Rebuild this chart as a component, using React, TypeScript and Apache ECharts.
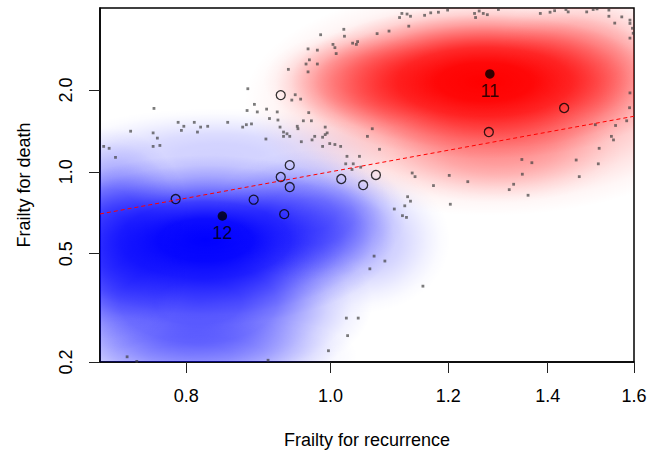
import React, { useEffect, useRef } from "react";
import * as echarts from "echarts";

// ---------- data (original units) ----------
const xTicks = [0.8, 1.0, 1.2, 1.4, 1.6];
const yTicks = [0.2, 0.5, 1.0, 2.0];
const xRange = [0.7, 1.6];
const yRange = [0.2, 4.0];

// reference line y = x
const refLineX = [0.7, 1.6];
const refLineY = [0.7, 1.6];

// open circles
const openX = [0.787, 0.888, 0.926, 0.939, 0.939, 0.931, 0.926, 1.017, 1.052, 1.073, 1.278, 1.436];
const openY = [0.794, 0.79, 0.957, 1.058, 0.879, 0.699, 1.914, 0.941, 0.894, 0.974, 1.4, 1.716];

// highlighted (filled) points
const highlightX = [1.28, 0.846];
const highlightY = [2.29, 0.688];
const highlightLabels = ["11", "12"];

// outlying sample points (grey dots)
const outlierX = [
  0.985, 0.966, 0.98, 0.968, 0.963, 0.98, 0.937, 0.966, 0.88, 0.947, 0.942, 0.955, 0.761, 0.889, 0.879, 0.893,
  0.906, 0.921, 0.922, 0.91, 0.967, 0.79, 0.797, 0.81, 0.818, 0.827, 0.794, 0.814, 0.853, 0.873, 0.885, 0.878,
  0.925, 0.95, 0.951, 0.959, 0.971, 0.992, 0.734, 0.76, 0.93, 0.93, 0.935, 0.939, 0.976, 0.972, 0.992, 0.765,
  0.905, 0.956, 0.704, 0.71, 0.76, 0.768, 0.988, 0.717,
  1.117, 1.126, 1.132, 1.113, 1.157, 1.168, 1.182, 1.199, 1.25, 1.252, 1.259, 1.267, 1.275, 1.297, 1.384, 1.405,
  1.415, 1.44, 1.445, 1.487, 1.502, 1.511, 1.539, 1.539, 1.553, 1.57, 1.59, 1.59, 1.596, 1.598, 1.59, 1.129,
  1.095, 1.075, 1.021, 1.022, 1.004, 1.007, 1.035, 1.041, 1.043, 1.009,
  0.995, 0.988, 0.999, 1.007, 1.016, 1.067, 1.059, 1.079, 1.026, 1.046, 1.024, 1.036, 1.048, 1.034, 1.135, 1.14,
  1.173, 1.202, 1.237, 1.345, 1.366, 1.346, 1.328, 1.319, 1.358, 1.507, 1.555, 1.582, 1.545, 1.55, 1.516, 1.463,
  1.514, 1.47, 1.127, 1.132, 1.122, 1.104, 1.118, 1.125, 1.204, 1.589, 1.59,
  1.07, 1.088, 1.063, 1.154, 1.025, 1.044, 1.027, 0.997, 0.73, 0.741, 0.908,
];
const outlierY = [
  3.19, 2.83, 2.8, 2.58, 2.49, 2.49, 2.38, 2.33, 2.02, 1.92, 1.835, 1.85, 1.71, 1.77, 1.68, 1.66,
  1.7, 1.66, 1.55, 1.57, 1.65, 1.52, 1.47, 1.52, 1.46, 1.47, 1.42, 1.4, 1.52, 1.46, 1.5, 1.49,
  1.46, 1.47, 1.44, 1.54, 1.54, 1.46, 1.41, 1.39, 1.4, 1.35, 1.38, 1.35, 1.35, 1.31, 1.37, 1.33,
  1.32, 1.29, 1.24, 1.22, 1.24, 1.25, 1.24, 1.13,
  3.82, 3.8, 3.73, 3.69, 3.76, 3.84, 3.86, 3.93, 3.82, 3.69, 3.9, 3.82, 3.78, 3.95, 3.82, 3.86,
  3.91, 3.95, 3.87, 3.87, 3.95, 3.97, 3.93, 3.73, 3.52, 3.71, 3.61, 3.51, 3.37, 3.23, 3.1, 3.43,
  3.29, 3.22, 3.34, 3.15, 2.94, 2.86, 2.97, 2.94, 3.01, 2.72,
  1.39, 1.34, 1.27, 1.26, 1.24, 1.44, 1.35, 1.21, 1.14, 1.14, 1.07, 1.07, 1.04, 1.02, 0.99, 0.96,
  0.89, 0.97, 0.92, 1.11, 1.08, 0.98, 0.9, 0.86, 0.82, 1.49, 1.48, 1.54, 1.35, 1.31, 1.22, 1.105,
  1.07, 0.96, 0.81, 0.78, 0.75, 0.73, 0.69, 0.68, 0.76, 1.72, 1.95,
  0.49, 0.47, 0.44, 0.38, 0.29, 0.29, 0.25, 0.22, 0.209, 0.201, 0.203,
];

// density clouds: centre (original units), spread (log units), weight
const blueCloudX = [0.824, 0.815, 0.711, 0.969, 0.84, 0.805, 1.047];
const blueCloudY = [0.561, 0.33, 0.561, 0.694, 1.15, 0.212, 0.561];
const blueSpreadX = [0.294, 0.27, 0.13, 0.15, 0.27, 0.26, 0.14];
const blueSpreadY = [0.72, 0.75, 0.95, 0.55, 0.4, 0.36, 0.62];
const blueWeight = [1.0, 0.65, 0.6, 0.45, 0.18, 0.28, 0.22];

const redCloudX = [1.27, 1.28, 1.047, 1.495, 1.3];
const redCloudY = [2.138, 1.835, 2.17, 2.8, 1.2];
const redSpreadX = [0.3, 0.38, 0.15, 0.14, 0.19];
const redSpreadY = [0.65, 0.98, 0.42, 0.55, 0.45];
const redWeight = [1.0, 0.42, 0.3, 0.2, 0.2];

const FONT = "'Liberation Sans', Arial, Helvetica, sans-serif";
const L = Math.log;

function cloudData(xs: number[], ys: number[], sx: number[], sy: number[], w: number[]) {
  return xs.map((x, i) => [L(x), L(ys[i]), sx[i], sy[i], w[i]]);
}

function makeCloudRenderer(rgb: string) {
  return (_params: any, api: any) => {
    const c = api.coord([api.value(0), api.value(1)]);
    const s = api.size([api.value(2), api.value(3)]);
    const a = api.value(4) as number;
    const col = (k: number) => `rgba(${rgb},${Math.min(1, a * k).toFixed(3)})`;
    return {
      type: "circle",
      x: c[0],
      y: c[1],
      scaleX: s[0] / 100,
      scaleY: s[1] / 100,
      shape: { cx: 0, cy: 0, r: 100 },
      style: {
        fill: new echarts.graphic.RadialGradient(0.5, 0.5, 0.5, [
          { offset: 0, color: col(1) },
          { offset: 0.25, color: col(0.95) },
          { offset: 0.45, color: col(0.76) },
          { offset: 0.6, color: col(0.5) },
          { offset: 0.75, color: col(0.25) },
          { offset: 0.88, color: col(0.08) },
          { offset: 1, color: col(0) },
        ]),
      },
    };
  };
}

export default function App() {
  const ref = useRef<HTMLDivElement>(null);

  useEffect(() => {
    if (!ref.current) return;
    const chart = echarts.init(ref.current, undefined, { renderer: "svg" });

    const fmt = (v: number) => Math.exp(v).toFixed(1);

    const option: any = {
      animation: false,
      backgroundColor: "#ffffff",
      grid: {
        left: 100,
        right: 15,
        top: 8,
        bottom: 91,
        show: true,
        borderColor: "#000",
        borderWidth: 1.5,
        backgroundColor: "transparent",
        containLabel: false,
        outerBoundsMode: "none",
      },
      xAxis: {
        type: "value",
        min: L(xRange[0]),
        max: L(xRange[1]),
        axisLine: { show: true, onZero: false, lineStyle: { color: "#000", width: 1.5 } },
        axisTick: {
          show: true,
          length: 11,
          customValues: xTicks.map(L),
          lineStyle: { color: "#222", width: 1 },
        },
        axisLabel: {
          customValues: xTicks.map(L),
          formatter: fmt,
          fontSize: 18,
          fontFamily: FONT,
          color: "#000",
          margin: 25,
        },
        splitLine: { show: false },
      },
      yAxis: {
        type: "value",
        min: L(yRange[0]),
        max: L(yRange[1]),
        axisLine: { show: true, onZero: false, lineStyle: { color: "#000", width: 1.5 } },
        axisTick: {
          show: true,
          length: 11,
          customValues: yTicks.map(L),
          lineStyle: { color: "#222", width: 1 },
        },
        axisLabel: {
          customValues: yTicks.map(L),
          formatter: fmt,
          fontSize: 18,
          fontFamily: FONT,
          color: "#000",
          rotate: 90,
          margin: 25,
        },
        splitLine: { show: false },
      },
      graphic: [
        {
          type: "text",
          x: 367,
          y: 440,
          style: {
            text: "Frailty for recurrence",
            fontSize: 18,
            fontFamily: FONT,
            fill: "#000",
            textAlign: "center",
            textVerticalAlign: "middle",
            align: "center",
            verticalAlign: "middle",
          },
        },
        {
          type: "text",
          x: 24,
          y: 185,
          rotation: Math.PI / 2,
          style: {
            text: "Frailty for death",
            fontSize: 18,
            fontFamily: FONT,
            fill: "#000",
            textAlign: "center",
            textVerticalAlign: "middle",
            align: "center",
            verticalAlign: "middle",
          },
        },
      ],
      series: [
        {
          type: "custom",
          name: "blueCloud",
          clip: true,
          silent: true,
          encode: { x: 0, y: 1 },
          data: cloudData(blueCloudX, blueCloudY, blueSpreadX, blueSpreadY, blueWeight),
          renderItem: makeCloudRenderer("0,0,255"),
        },
        {
          type: "custom",
          name: "redCloud",
          clip: true,
          silent: true,
          encode: { x: 0, y: 1 },
          data: cloudData(redCloudX, redCloudY, redSpreadX, redSpreadY, redWeight),
          renderItem: makeCloudRenderer("255,0,0"),
        },
        {
          type: "scatter",
          name: "outliers",
          symbol: "rect",
          symbolSize: 2.8,
          itemStyle: { color: "rgba(60,60,60,0.85)" },
          data: outlierX.map((x, i) => [L(x), L(outlierY[i])]),
        },
        {
          type: "line",
          name: "identity",
          showSymbol: false,
          symbol: "none",
          lineStyle: { color: "#ff0000", width: 1, type: [4, 3] },
          data: refLineX.map((x, i) => [L(x), L(refLineY[i])]),
        },
        {
          type: "scatter",
          name: "open",
          symbol: "circle",
          symbolSize: 9,
          itemStyle: { color: "rgba(0,0,0,0)", borderColor: "#000", borderWidth: 1.3 },
          data: openX.map((x, i) => [L(x), L(openY[i])]),
        },
        {
          type: "scatter",
          name: "highlight",
          symbol: "circle",
          symbolSize: 9.5,
          itemStyle: { color: "#000" },
          label: {
            show: true,
            position: "bottom",
            distance: 3,
            fontSize: 18,
            fontFamily: FONT,
            color: "#000",
            formatter: (p: any) => highlightLabels[p.dataIndex],
          },
          data: highlightX.map((x, i) => [L(x), L(highlightY[i])]),
        },
      ],
    };

    chart.setOption(option);
    return () => chart.dispose();
  }, []);

  return (
    <div
      ref={ref}
      style={{ position: "absolute", left: 0, top: 0, width: 649, height: 453, background: "#fff" }}
    />
  );
}
